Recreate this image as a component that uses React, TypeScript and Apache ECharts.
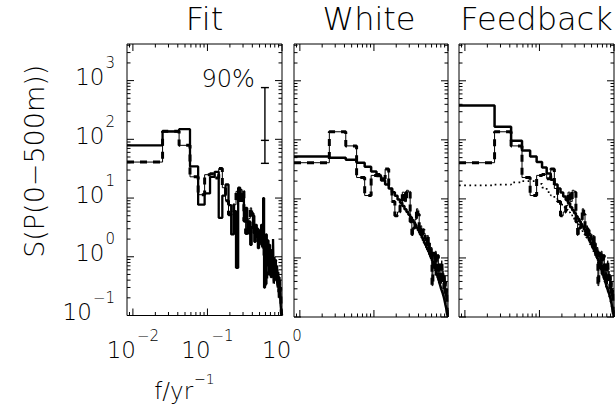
import React, { useEffect, useRef } from "react";
import * as echarts from "echarts";

// ---- data (frequency index k = 1..60, f = k / PERIOD yr^-1) ----
const PERIOD = 60;
const panelTitles = ["Fit", "White", "Feedback"];

const observed = [
  41, 137, 79, 23, 11.4, 25, 26, 22, 32, 15,
  9, 5.2, 6, 7.7, 13, 9, 14, 13, 4.1, 2.5,
  3.2, 4.5, 6.8, 5.5, 2.5, 3.5, 2.2, 3, 2.6, 2.1,
  1.6, 2.4, 1.4, 1.8, 1.0, 1.5, 0.34, 0.9, 1.2, 0.7,
  1.3, 0.5, 0.9, 1.1, 0.45, 0.8, 0.6, 0.35, 0.7, 0.9,
  0.45, 0.6, 0.3, 0.5, 0.25, 0.4, 0.2, 0.3, 0.12, 0.1,
];

const fitModel = [
  79, 136, 149, 34.5, 7.7, 12, 23, 28, 4.6, 11,
  17, 7.6, 2.4, 6, 0.65, 15, 9, 12, 4, 6.8,
  2.5, 4, 1.6, 3.2, 5, 1.8, 3.5, 2.2, 1.4, 2.8,
  1.9, 3.5, 1.5, 10, 0.3, 1.2, 2.4, 0.8, 1.9, 0.5,
  1.6, 1.1, 0.45, 1.3, 0.7, 2, 0.35, 1, 0.6, 0.9,
  0.4, 0.7, 0.3, 0.55, 0.2, 0.45, 0.25, 0.15, 0.12, 0.1,
];

const whiteModel = [
  52, 50, 46, 41, 35, 29, 24.5, 20.5, 17.5, 15,
  13, 11.3, 9.8, 8.6, 7.6, 6.7, 6, 5.4, 4.9, 4.4,
  4, 3.6, 3.25, 2.95, 2.7, 2.45, 2.2, 2, 1.8, 1.65,
  1.5, 1.38, 1.27, 1.16, 1.06, 0.97, 0.89, 0.81, 0.74, 0.67,
  0.61, 0.55, 0.5, 0.46, 0.42, 0.39, 0.36, 0.33, 0.3, 0.28,
  0.26, 0.24, 0.22, 0.2, 0.18, 0.16, 0.145, 0.13, 0.115, 0.1,
];

const feedbackModel = [
  380, 166, 97, 66, 52, 42, 34, 27, 21, 17.5,
  15, 12.8, 11, 9.6, 8.4, 7.2, 6.4, 5.7, 5.1, 4.6,
  4.15, 3.75, 3.4, 3.05, 2.8, 2.5, 2.25, 2.05, 1.85, 1.7,
  1.55, 1.42, 1.3, 1.19, 1.09, 1.0, 0.91, 0.83, 0.76, 0.69,
  0.63, 0.57, 0.52, 0.47, 0.43, 0.4, 0.37, 0.34, 0.31, 0.29,
  0.27, 0.25, 0.23, 0.21, 0.19, 0.17, 0.15, 0.13, 0.12, 0.1,
];

const feedbackNoFeedback = [
  17, 17.5, 19, 20, 20, 18, 15.5, 13, 11.5, 10,
  9, 8, 7.2, 6.5, 5.9, 5.3, 4.8, 4.4, 4, 3.7,
  3.4, 3.1, 2.85, 2.6, 2.4, 2.2, 2.0, 1.85, 1.7, 1.55,
  1.42, 1.3, 1.2, 1.1, 1.0, 0.92, 0.84, 0.77, 0.7, 0.64,
  0.58, 0.53, 0.48, 0.44, 0.4, 0.37, 0.34, 0.31, 0.29, 0.27,
  0.25, 0.23, 0.21, 0.19, 0.17, 0.155, 0.14, 0.125, 0.11, 0.1,
];

// 90% confidence bar: frequency, [low, mid, high]
const errorBarF = 0.59;
const errorBarValues = [39, 96, 760];
const errorBarLabel = "90%";

// axis extents and tick decades
const XMIN = 0.5 / PERIOD;
const XMAX = 1;
const YMIN = 0.1;
const YMAX = 4200;
const xTickExponents = [-3, -2, -1, 0];
const yTickExponents = [-1, 0, 1, 2, 3];
const tickMultipliers = [1, 2, 3, 4, 5, 6, 7, 8, 9];

const FONT = '"DejaVu Sans", "Liberation Sans", sans-serif';
const WEIGHT = 200;

const stepPoints = (vals: number[]) =>
  vals.flatMap((v, i) => [
    [(i + 0.5) / PERIOD, v],
    [(i + 1.5) / PERIOD, v],
  ]);

const tickData = () => {
  const out: number[][] = [];
  yTickExponents.forEach((e) =>
    tickMultipliers.forEach((m) => {
      const v = m * Math.pow(10, e);
      if (v >= YMIN * 0.999 && v <= YMAX) out.push([XMIN, v, m === 1 ? 1 : 0]);
    })
  );
  xTickExponents.forEach((e) =>
    tickMultipliers.forEach((m) => {
      const v = m * Math.pow(10, e);
      if (v >= XMIN && v <= XMAX * 1.0001) out.push([v, YMIN, m === 1 ? 3 : 2]);
    })
  );
  return out;
};

const supText = (e: number) => (e < 0 ? "\u2212" + Math.abs(e) : String(e));

const powLabel = (v: number) => {
  const e = Math.round(Math.log10(v));
  if (Math.abs(v - Math.pow(10, e)) / Math.pow(10, e) > 1e-6) return "";
  return `{b|10}{s|${supText(e)}}`;
};

const rich = {
  b: {
    fontSize: 23,
    fontFamily: FONT,
    fontWeight: WEIGHT,
    color: "#000",
    padding: [0, 0, 7, 0],
  },
  s: {
    fontSize: 15,
    fontFamily: FONT,
    fontWeight: WEIGHT,
    color: "#000",
    padding: [0, 0, 35, 1],
  },
};

const grids = [
  { left: 127, top: 44, width: 155, height: 273 },
  { left: 294, top: 44, width: 154, height: 273 },
  { left: 459, top: 44, width: 155, height: 273 },
];

export default function App() {
  const ref = useRef<HTMLDivElement>(null);

  useEffect(() => {
    if (!ref.current) return;
    const chart = echarts.init(ref.current, undefined, { renderer: "svg" });

    const lineSeries = (
      idx: number,
      vals: number[],
      width: number,
      type: any,
      z: number
    ) => ({
      type: "line",
      xAxisIndex: idx,
      yAxisIndex: idx,
      data: stepPoints(vals),
      symbol: "none",
      showSymbol: false,
      silent: true,
      z,
      lineStyle: { color: "#000", width, type },
    });

    const ticks = tickData();
    const tickSeries = (idx: number) => ({
      type: "custom",
      xAxisIndex: idx,
      yAxisIndex: idx,
      data: ticks,
      silent: true,
      clip: false,
      z: 10,
      renderItem: (params: any, api: any) => {
        const cs = params.coordSys;
        const kind = api.value(2);
        const pt = api.coord([api.value(0), api.value(1)]);
        const len = kind === 1 || kind === 3 ? 7 : 3.5;
        const style = { stroke: "#000", lineWidth: 1 };
        if (kind <= 1) {
          return {
            type: "group",
            children: [
              { type: "line", shape: { x1: cs.x, y1: pt[1], x2: cs.x + len, y2: pt[1] }, style },
              {
                type: "line",
                shape: { x1: cs.x + cs.width, y1: pt[1], x2: cs.x + cs.width - len, y2: pt[1] },
                style,
              },
            ],
          };
        }
        const yb = cs.y + cs.height;
        return {
          type: "group",
          children: [
            { type: "line", shape: { x1: pt[0], y1: yb, x2: pt[0], y2: yb - len }, style },
            { type: "line", shape: { x1: pt[0], y1: cs.y, x2: pt[0], y2: cs.y + len }, style },
          ],
        };
      },
    });

    const errorSeries = {
      type: "custom",
      xAxisIndex: 0,
      yAxisIndex: 0,
      data: [[errorBarF, ...errorBarValues]],
      silent: true,
      z: 12,
      renderItem: (params: any, api: any) => {
        const f = api.value(0);
        const lo = api.coord([f, api.value(1)]);
        const mid = api.coord([f, api.value(2)]);
        const hi = api.coord([f, api.value(3)]);
        const style = { stroke: "#000", lineWidth: 1.4 };
        const cap = (p: number[]) => ({
          type: "line",
          shape: { x1: p[0] - 4, y1: p[1], x2: p[0] + 4, y2: p[1] },
          style,
        });
        return {
          type: "group",
          children: [
            { type: "line", shape: { x1: hi[0], y1: hi[1], x2: lo[0], y2: lo[1] }, style },
            cap(hi),
            cap(mid),
            cap(lo),
            {
              type: "text",
              x: hi[0] - 10,
              y: hi[1] + 3,
              style: {
                text: errorBarLabel,
                fontSize: 24,
                fontFamily: FONT,
                fontWeight: WEIGHT,
                fill: "#000",
                align: "right",
                verticalAlign: "bottom",
              },
            },
          ],
        };
      },
    };

    const panelSeries: any[] = [];
    // Fit
    panelSeries.push(lineSeries(0, observed, 1, "solid", 2));
    panelSeries.push(lineSeries(0, fitModel, 2.3, "solid", 3));
    panelSeries.push(lineSeries(0, observed, 3, [7, 6], 4));
    // White
    panelSeries.push(lineSeries(1, observed, 1, "solid", 2));
    panelSeries.push(lineSeries(1, observed, 3, [7, 6], 3));
    panelSeries.push(lineSeries(1, whiteModel, 2.5, "solid", 4));
    // Feedback
    panelSeries.push(lineSeries(2, observed, 1, "solid", 2));
    panelSeries.push(lineSeries(2, observed, 3, [7, 6], 3));
    panelSeries.push(lineSeries(2, feedbackModel, 2.5, "solid", 4));
    panelSeries.push(lineSeries(2, feedbackNoFeedback, 1.7, [1.7, 3.5], 4));

    const option: any = {
      animation: false,
      grid: grids.map((g) => ({
        ...g,
        show: true,
        borderColor: "#000",
        borderWidth: 1,
        backgroundColor: "transparent",
      })),
      xAxis: grids.map((_, i) => ({
        type: "log",
        logBase: 10,
        gridIndex: i,
        min: XMIN,
        max: XMAX,
        axisLine: { show: false },
        axisTick: { show: false },
        splitLine: { show: false },
        axisLabel:
          i === 0
            ? { show: true, interval: 0, margin: 13, color: "#000", formatter: powLabel, rich }
            : { show: false },
        name: i === 0 ? "{a|f/yr}{s|\u22121}" : "",
        nameLocation: "middle",
        nameGap: 56,
        nameTextStyle: {
          color: "#000",
          padding: [0, 40, 0, 0],
          rich: {
            a: {
              fontSize: 23,
              fontFamily: FONT,
              fontWeight: WEIGHT,
              color: "#000",
            },
            s: {
              fontSize: 14,
              fontFamily: FONT,
              fontWeight: WEIGHT,
              color: "#000",
              padding: [0, 0, 24, 1],
            },
          },
        },
      })),
      yAxis: grids.map((_, i) => ({
        type: "log",
        logBase: 10,
        gridIndex: i,
        min: YMIN,
        max: YMAX,
        axisLine: { show: false },
        axisTick: { show: false },
        splitLine: { show: false },
        axisLabel:
          i === 0
            ? { show: true, interval: 0, margin: 12, color: "#000", formatter: powLabel, rich }
            : { show: false },
        name: i === 0 ? "S(P(0\u2212500m))" : "",
        nameLocation: "middle",
        nameGap: 79,
        nameRotate: 90,
        nameTextStyle: {
          fontSize: 27,
          fontFamily: FONT,
          fontWeight: WEIGHT,
          color: "#000",
          padding: [0, 0, 0, 37],
        },
      })),
      series: [
        ...panelSeries,
        tickSeries(0),
        tickSeries(1),
        tickSeries(2),
        errorSeries,
      ],
      graphic: panelTitles.map((t, i) => ({
        type: "text",
        x: [204.5, 369, 536.5][i],
        y: 3,
        style: {
          text: t,
          fontSize: 32,
          fontFamily: FONT,
          fontWeight: WEIGHT,
          fill: "#000",
          align: "center",
          verticalAlign: "top",
        },
      })),
    };

    chart.setOption(option);
    return () => chart.dispose();
  }, []);

  return (
    <div
      ref={ref}
      style={{ position: "fixed", left: 0, top: 0, width: 616, height: 407, background: "#fff" }}
    />
  );
}
